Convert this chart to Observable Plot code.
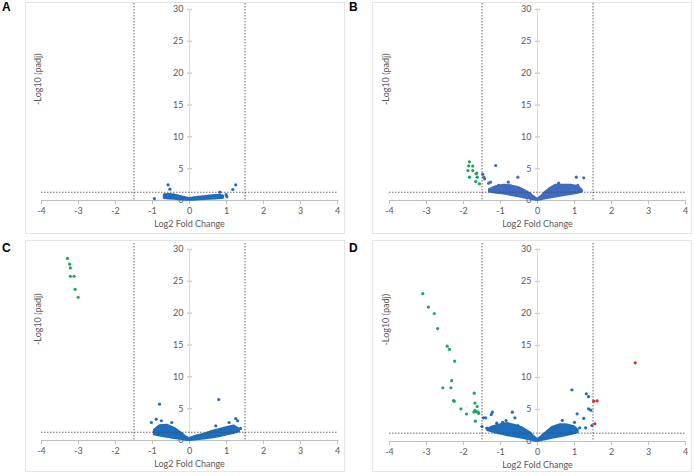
<!DOCTYPE html>
<html><head><meta charset="utf-8">
<script src="https://cdn.jsdelivr.net/npm/d3@7"></script>
<script src="https://cdn.jsdelivr.net/npm/@observablehq/plot@0.6"></script>
<style>
body{margin:0;background:#fff;}
#wrap{position:relative;width:694px;height:476px;overflow:hidden;}
.panel{position:absolute;width:347px;height:238px;}
.frame{position:absolute;border:1px solid #e4e4e4;box-sizing:border-box;}
.lab{position:absolute;font:bold 12px "Liberation Sans",Arial,sans-serif;color:#000;line-height:12px;}
</style></head>
<body><div id="wrap"></div>
<script>
// ---------- shared axis data ----------
const panelLabels = ["A", "B", "C", "D"];
const xTicks = [-4, -3, -2, -1, 0, 1, 2, 3, 4];
const yTicks = [0, 5, 10, 15, 20, 25, 30];
const foldThresholds = [-1.5, 1.5];
const padjThreshold = [1.3];
const xTitle = "Log2 Fold Change";
const yTitle = "-Log10 (padj)";

// ---------- panel A ----------
const cloudA_x  = [-0.68, -0.55, -0.4, -0.25, -0.1, 0, 0.1, 0.25, 0.4, 0.55, 0.7, 0.85, 0.92];
const cloudA_lo = [0.3, 0.25, 0.2, 0.12, 0.05, 0.02, 0.05, 0.1, 0.15, 0.2, 0.25, 0.3, 0.35];
const cloudA_hi = [0.85, 0.95, 0.85, 0.65, 0.45, 0.3, 0.4, 0.5, 0.6, 0.7, 0.8, 0.8, 0.65];
const blueA = [[-0.95, 0.3], [-0.58, 2.46], [-0.53, 1.78], [-0.67, 0.9], [0.82, 1.3], [1.17, 1.73],
  [1.25, 2.46], [0.99, 0.94], [1.01, 0.6], [0.9, 0.7]];

// ---------- panel B ----------
const cloudB_x  = [-1.3, -1.1, -0.9, -0.7, -0.5, -0.35, -0.2, -0.1, 0, 0.1, 0.2, 0.35, 0.5, 0.7, 0.9, 1.1, 1.2];
const cloudB_lo = [1.35, 1.15, 1.0, 0.8, 0.6, 0.4, 0.22, 0.1, 0, 0.1, 0.22, 0.4, 0.55, 0.75, 0.95, 1.15, 1.3];
const cloudB_hi = [1.7, 2.2, 2.4, 2.3, 2.0, 1.6, 1.1, 0.6, 0.2, 0.6, 1.2, 1.9, 2.4, 2.4, 2.4, 2.2, 1.7];
const blueB = [[-1.13, 5.5], [-1.48, 4.14], [-1.45, 3.67], [-1.43, 3.4], [-1.27, 2.88], [-1.32, 2.72],
  [-1.05, 2.36], [-0.79, 2.88], [-0.53, 3.67], [0.57, 2.72], [1.05, 3.67], [1.25, 3.56], [1.09, 2.36], [1.19, 1.57]];
const greenB = [[-1.84, 6.07], [-1.86, 5.45], [-1.88, 4.7], [-1.75, 5.4], [-1.75, 4.7], [-1.84, 3.67],
  [-1.66, 4.19], [-1.63, 3.67], [-1.64, 4.3], [-1.67, 2.98], [-1.57, 2.62]];

// ---------- panel C ----------
const cloudC_x  = [-0.95, -0.8, -0.6, -0.4, -0.2, -0.1, 0, 0.1, 0.2, 0.4, 0.6, 0.8, 1.0, 1.2, 1.35];
const cloudC_lo = [0.9, 0.7, 0.5, 0.3, 0.15, 0.05, 0, 0.05, 0.1, 0.25, 0.4, 0.6, 0.85, 1.1, 1.35];
const cloudC_hi = [1.6, 2.3, 2.4, 1.9, 1.1, 0.6, 0.3, 0.5, 0.7, 1.0, 1.4, 1.7, 2.0, 2.3, 1.8];
const blueC = [[-0.81, 5.7], [0.79, 6.44], [-1.03, 2.83], [-0.9, 3.35], [-0.76, 3.1], [-0.48, 2.83],
  [1.07, 2.83], [1.25, 3.45], [1.3, 3.1], [1.38, 1.9], [0.71, 2.3]];
const greenC = [[-3.3, 28.6], [-3.24, 27.7], [-3.22, 27.1], [-3.22, 25.8], [-3.12, 25.8], [-3.09, 23.75], [-3.01, 22.5]];

// ---------- panel D ----------
const cloudD_x  = [-1.35, -1.2, -1.0, -0.8, -0.6, -0.4, -0.2, -0.1, 0, 0.1, 0.2, 0.4, 0.6, 0.8, 1.0, 1.1];
const cloudD_lo = [1.7, 1.45, 1.15, 0.9, 0.7, 0.5, 0.25, 0.1, 0, 0.1, 0.25, 0.5, 0.7, 0.95, 1.2, 1.4];
const cloudD_hi = [1.9, 2.3, 2.6, 2.8, 2.5, 2.1, 1.4, 0.8, 0.3, 0.7, 1.2, 2.2, 2.6, 2.6, 2.3, 1.8];
const blueD = [[-1.5, 2.34], [-1.46, 3.7], [-1.4, 3.7], [-1.22, 4.58], [-1.25, 4.2], [-1.37, 2.08],
  [-1.1, 2.86], [-0.68, 4.58], [-0.61, 3.7], [-0.94, 3.0], [-0.85, 3.28], [-0.53, 2.5], [-1.1, 1.72],
  [0.93, 8.07], [1.32, 7.45], [1.38, 7.0], [1.38, 5.1], [1.44, 4.9], [1.07, 4.33], [1.25, 3.6],
  [0.67, 3.28], [1.0, 3.0], [1.14, 2.14], [1.3, 2.14], [1.47, 2.5]];
const greenD = [[-3.1, 23.1], [-2.95, 21.0], [-2.79, 20.0], [-2.7, 17.65], [-2.44, 14.9], [-2.38, 14.4],
  [-2.24, 12.55], [-2.32, 9.5], [-2.56, 8.4], [-2.34, 8.4], [-2.27, 6.4], [-2.25, 6.3], [-2.07, 5.1],
  [-1.92, 4.3], [-1.71, 7.55], [-1.69, 6.0], [-1.63, 5.47], [-1.69, 4.85], [-1.66, 4.65], [-1.61, 4.65],
  [-1.59, 4.4], [-1.72, 4.6], [-1.68, 3.17]];
const redD = [[2.64, 12.3], [1.52, 6.3], [1.61, 6.35], [1.55, 2.77]];

// ---------- colours ----------
const blueMain = "#1f6ebd";
const blueB_col = "#3f6cc2";
const greenCol = "#1fa35c";
const redCol = "#e3242b";

const panels = [
  {label: "A", left: 0, top: 0, ml: 41, mr: 10, mt: 9, mb: 38, cx: cloudA_x, lo: cloudA_lo, hi: cloudA_hi, blue: blueA, green: [], red: [], col: blueMain},
  {label: "B", left: 347, top: 0, ml: 42, mr: 9, mt: 9, mb: 38, cx: cloudB_x, lo: cloudB_lo, hi: cloudB_hi, blue: blueB, green: greenB, red: [], col: blueB_col},
  {label: "C", left: 0, top: 238, ml: 41, mr: 10, mt: 11, mb: 36, cx: cloudC_x, lo: cloudC_lo, hi: cloudC_hi, blue: blueC, green: greenC, red: [], col: blueMain},
  {label: "D", left: 347, top: 238, ml: 42, mr: 9, mt: 11, mb: 35, cx: cloudD_x, lo: cloudD_lo, hi: cloudD_hi, blue: blueD, green: greenD, red: redD, col: blueMain}
];

const hline = {draw(ctx) { ctx.moveTo(-2.5, 0); ctx.lineTo(2.5, 0); }};
const font = "Lato, 'Open Sans', sans-serif";
const wrap = document.getElementById("wrap");

panels.forEach((p, i) => {
  const cloud = p.cx.map((x, k) => ({x, lo: p.lo[k], hi: p.hi[k]}));
  const frame = document.createElement("div");
  frame.className = "frame";
  frame.style.left = (p.left + 25) + "px";
  frame.style.top = (p.top + 2) + "px";
  frame.style.width = "320px";
  frame.style.height = "232px";
  wrap.appendChild(frame);

  const svg = Plot.plot({
    width: 347, height: 238,
    marginLeft: p.ml, marginRight: p.mr, marginTop: p.mt, marginBottom: p.mb,
    x: {domain: [-4, 4], axis: null},
    y: {domain: [0, 30], axis: null},
    style: {fontFamily: font, fontSize: "9px", color: "#595959", background: "transparent", overflow: "visible"},
    marks: [
      Plot.ruleX([0], {stroke: "#d9d9d9"}),
      Plot.dot(yTicks.filter(d => d > 0), {x: () => 0, y: d => d, symbol: hline, stroke: "#d0d0d0", fill: "none"}),
      Plot.ruleY([0], {stroke: "#bfbfbf"}),
      Plot.axisX(xTicks, {tickSize: 4, tickPadding: 3, stroke: "#bfbfbf", color: "#595959", tickFormat: d => String(d), label: null}),
      Plot.text(yTicks, {x: () => 0, y: d => d, text: d => String(d), textAnchor: "end", dx: -6, fill: "#595959"}),
      Plot.text([xTitle], {frameAnchor: "bottom", dy: 26, fill: "#595959"}),
      Plot.text([yTitle], {frameAnchor: "left", rotate: -90, dx: -3, fill: "#595959"}),
      Plot.areaY(cloud, {x: "x", y1: "lo", y2: "hi", fill: p.col, stroke: p.col, strokeWidth: 2, strokeLinejoin: "round"}),
      Plot.dot(p.blue, {x: d => d[0], y: d => d[1], r: 1.6, fill: p.col}),
      Plot.dot(p.green, {x: d => d[0], y: d => d[1], r: 1.6, fill: greenCol}),
      Plot.dot(p.red, {x: d => d[0], y: d => d[1], r: 1.6, fill: redCol}),
      Plot.ruleX(foldThresholds, {stroke: "#404040", strokeWidth: 0.8, strokeDasharray: "1.5,1.5", insetTop: -6}),
      Plot.ruleY(padjThreshold, {stroke: "#404040", strokeWidth: 0.8, strokeDasharray: "1.5,1.5"})
    ]
  });
  const div = document.createElement("div");
  div.className = "panel";
  div.style.left = p.left + "px";
  div.style.top = p.top + "px";
  div.appendChild(svg);
  wrap.appendChild(div);

  const lab = document.createElement("div");
  lab.className = "lab";
  lab.textContent = panelLabels[i];
  lab.style.left = (p.left + 2) + "px";
  lab.style.top = (p.top + (p.top ? 4 : 1)) + "px";
  wrap.appendChild(lab);
});
</script></body></html>
